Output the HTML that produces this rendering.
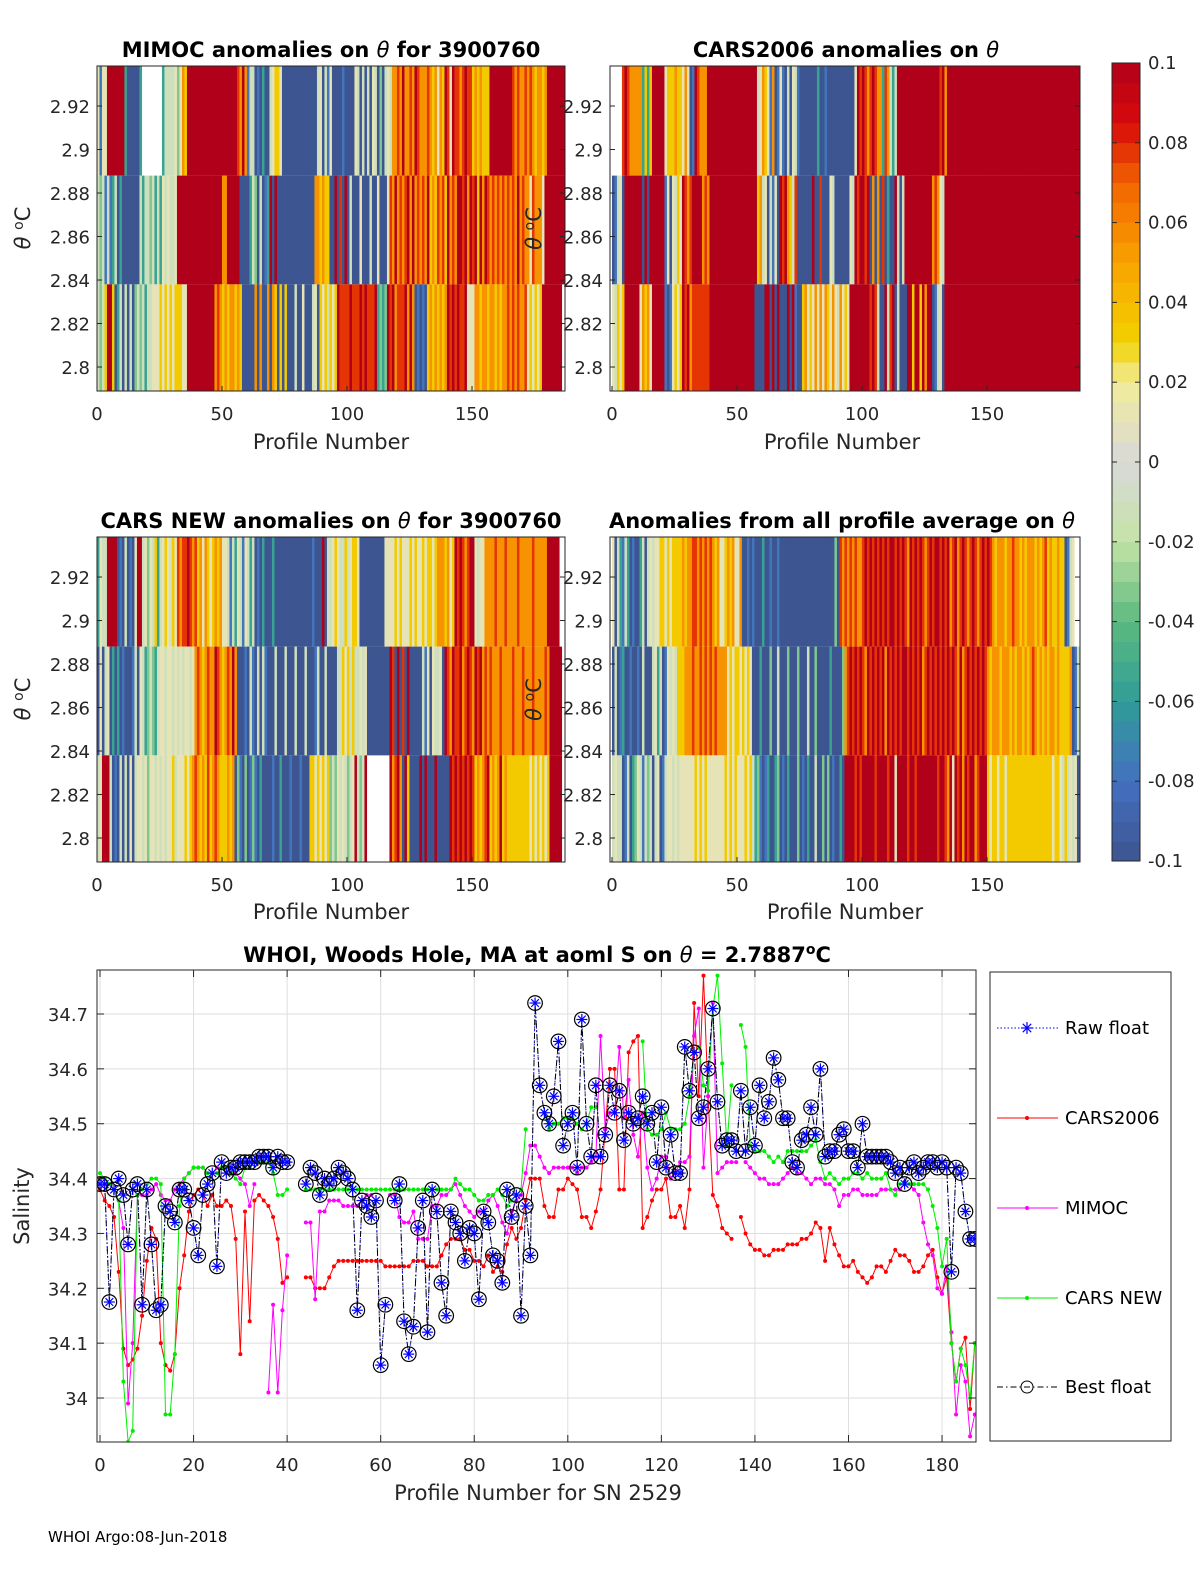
<!DOCTYPE html>
<html><head><meta charset="utf-8">
<style>
html,body{margin:0;padding:0;background:#fff;width:1200px;height:1575px;overflow:hidden;}
svg{display:block;font-family:"DejaVu Sans","Liberation Sans",sans-serif;}
.tk{font-size:18px;fill:#262626;}
.tt{font-size:21px;font-weight:bold;fill:#000;}
.lb{font-size:21px;fill:#262626;}
</style></head>
<body>
<svg id="fig" width="1200" height="1575" viewBox="0 0 1200 1575" xmlns="http://www.w3.org/2000/svg">
<defs>
<clipPath id="c1"><rect x="97" y="66" width="468" height="325"/></clipPath>
<clipPath id="c2"><rect x="610" y="66" width="470" height="325"/></clipPath>
<clipPath id="c3"><rect x="97" y="537" width="468" height="325"/></clipPath>
<clipPath id="c4"><rect x="610" y="537" width="470" height="325"/></clipPath>
<clipPath id="c5"><rect x="97" y="970" width="879" height="472"/></clipPath>
</defs>
<g id="heat"></g>
<g id="cbar"></g>
<g id="line"></g>

<text class="tt" x="331" y="57" text-anchor="middle">MIMOC anomalies on <tspan font-style="italic" font-weight="normal">θ</tspan>  for 3900760</text>
<text class="tt" x="846" y="57" text-anchor="middle">CARS2006 anomalies on <tspan font-style="italic" font-weight="normal">θ</tspan></text>
<text class="tt" x="331" y="528" text-anchor="middle">CARS NEW anomalies on <tspan font-style="italic" font-weight="normal">θ</tspan> for 3900760</text>
<text class="tt" x="842" y="528" text-anchor="middle">Anomalies from all profile average on <tspan font-style="italic" font-weight="normal">θ</tspan></text>
<text class="lb" x="331" y="449" text-anchor="middle">Profile Number</text>
<text class="lb" x="842" y="449" text-anchor="middle">Profile Number</text>
<text class="lb" x="331" y="919" text-anchor="middle">Profile Number</text>
<text class="lb" x="845" y="919" text-anchor="middle">Profile Number</text>
<text class="lb" transform="translate(30,228) rotate(-90)" text-anchor="middle"><tspan font-style="italic">θ</tspan> <tspan dy="-7" font-size="14">o</tspan><tspan dy="7">C</tspan></text>
<text class="lb" transform="translate(30,699) rotate(-90)" text-anchor="middle"><tspan font-style="italic">θ</tspan> <tspan dy="-7" font-size="14">o</tspan><tspan dy="7">C</tspan></text>
<text class="tt" x="537" y="962" text-anchor="middle">WHOI, Woods Hole, MA at aoml S on <tspan font-style="italic" font-weight="normal">θ</tspan> = 2.7887<tspan dy="-8" font-size="14">o</tspan><tspan dy="8">C</tspan></text>
<text class="lb" x="538" y="1500" text-anchor="middle">Profile Number for SN 2529</text>
<text class="lb" transform="translate(29,1206) rotate(-90)" text-anchor="middle">Salinity</text>
<text x="48" y="1542" font-size="15" fill="#000">WHOI Argo:08-Jun-2018</text>
</svg>
<script>
const NS='http://www.w3.org/2000/svg';
function mk(tag,attrs,parent){const e=document.createElementNS(NS,tag);for(const k in attrs)e.setAttribute(k,attrs[k]);parent.appendChild(e);return e;}

// ---------- heatmap data (level digits 0..9 => -0.1..0.1, n = no data) ----------
const bandEdges=[2.9384,2.888,2.838,2.789];
const thetaTicks=[2.8,2.82,2.84,2.86,2.88,2.9,2.92];
const profTicks=[0,50,100,150];
const mimocTop="515599999992000002nnnnnnnn2444453576999999999999999999998797144010200456650000000000000045041500001000054040405403045477879778798777876757698598878988676766699999999987877878767767999999999";
const mimocMid="43414124020000000424434242545445999999999999999999779999900002430401290900000000000000077676600908090400050004005000587978789797878796768786978799897989697987878787878797877587775999999999";
const mimocBot="434699602404040343424455565656566655999999999997876767767600000707007076060600040050004506564656988889888989888923239897888979701010676767679898988955577677677676778787877856565699999999";
const cars06Top="nnnn898777772626999995666766575019877799999999999999999999457651701510405410000000200100000000000598987898772874249999999999999999989799999999999999999999999999999999999999999999999999999";
const cars06Mid="01450999999909099999915054659878999978799999999999999999996745041509897648000000900800054000000549899890707080200940499999999999787549999999999999999999999999999999999999999999999999999999";
const cars06Bot="54656999999576759999910156569897888888899999999999999999900009909090009091006756575757657547565999999998984009489040009969969799014509999999999999999999999999999999999999999999999999999999";
const carsNewTop="25449999010401059945354624565465878898786757656767554142541542401020002000000000000000100090445654464566500000000005555656555656556566567776756989878995455777787778777787777787777799999";
const carsNewMid="050450202010001405423432455455454545545787678779876787970001041040410004000400040004000140040000446564644545000000000980908090000041505445098798897898798978787778777787778777877778799999";
const carsNewBot="459994010404050455453554545455645556567876768678766676703103013102000010020001000100066565656343545434594349nnnnnnnnn978970960000909000900000989898989867678967679676666666665656565699999";
const avgTop="50421420100240454556656566667677887878787675567675570010100020010010000000000000000000000308787878778989898989899898987989898789899898978978987898789898767776778776767776767867667660145";
const avgMid="04012001001040004524015454666777877878787877775656656565000200030040003000300040030000020000378989898798989897989898998989897898989898989879789898989876777677767677676787676767767666670140";
const avgBot="45440140235414340450145545455555565656555555565656555656423101200230102000301020040030301002099998989999989999899599998998999999998998795989798997899965665665666666666666666666566546454504";

const panels=[
 {name:'mimoc',x0:97,left:97,right:565,top:66,bot:391,clip:'c1',rows:[mimocTop,mimocMid,mimocBot]},
 {name:'cars2006',x0:612,left:610,right:1080,top:66,bot:391,clip:'c2',rows:[cars06Top,cars06Mid,cars06Bot]},
 {name:'cars-new',x0:97,left:97,right:565,top:537,bot:862,clip:'c3',rows:[carsNewTop,carsNewMid,carsNewBot]},
 {name:'average',x0:612,left:610,right:1080,top:537,bot:862,clip:'c4',rows:[avgTop,avgMid,avgBot]}
];
const stops=[[-0.1,[61,85,144]],[-0.08,[68,112,192]],[-0.06,[47,157,152]],[-0.04,[92,185,127]],[-0.02,[196,227,166]],[0,[217,217,217]],[0.02,[241,236,154]],[0.03,[242,210,0]],[0.05,[249,163,0]],[0.07,[242,100,0]],[0.085,[216,10,10]],[0.1,[176,0,26]]];
function cmap(v){v=Math.max(-0.1,Math.min(0.1,v));for(let i=1;i<stops.length;i++){if(v<=stops[i][0]){const a=stops[i-1],b=stops[i],t=(v-a[0])/(b[0]-a[0]);const c=a[1].map((x,k)=>Math.round(x+(b[1][k]-x)*t));return 'rgb('+c.join(',')+')';}}return 'rgb(176,0,26)';}

const heat=document.getElementById('heat');
panels.forEach((P,pi)=>{
  const g=mk('g',{},heat);
  
  
  const ys=v=>P.top+(bandEdges[0]-v)*2175;
  const xs=p=>P.x0+p*2.5;
  const cg=mk('g',{'clip-path':'url(#'+P.clip+')'},g);
  P.rows.forEach((row,ri)=>{
    const y1=ys(bandEdges[ri]),y2=ys(bandEdges[ri+1]);
    for(let p=0;p<row.length;p++){
      const ch=row[p]; if(ch==='n') continue;
      const v=-0.1+parseInt(ch)*0.2/9;
      const r=mk('rect',{x:xs(p)-0.05,y:y1,width:2.6,height:y2-y1,fill:cmap(v)},cg);
      
      
    }
  });
  mk('rect',{x:P.left,y:P.top,width:P.right-P.left,height:P.bot-P.top,fill:'none',stroke:'#262626','stroke-width':1},g);
  thetaTicks.forEach(t=>{
    const y=ys(t);
    mk('line',{x1:P.left,x2:P.left+5,y1:y,y2:y,stroke:'#262626'},g);
    mk('line',{x1:P.right,x2:P.right-5,y1:y,y2:y,stroke:'#262626'},g);
    const tx=mk('text',{x:P.left-7,y:y+7,'text-anchor':'end',class:'tk'},g);
    tx.textContent=String(t);
    
    
  });
  profTicks.forEach(t=>{
    const x=xs(t);
    mk('line',{x1:x,x2:x,y1:P.bot,y2:P.bot-5,stroke:'#262626'},g);
    const tx=mk('text',{x:x,y:P.bot+29,'text-anchor':'middle',class:'tk'},g);
    tx.textContent=String(t);
    
    
  });
  if(pi===1||pi===3){
    const yl=mk('text',{transform:'translate(541,'+((P.top+P.bot)/2)+') rotate(-90)','text-anchor':'middle',class:'lb'},g);
    yl.innerHTML='<tspan font-style="italic">θ</tspan> <tspan dy="-7" font-size="14">o</tspan><tspan dy="7">C</tspan>';
    
    
  }
});

// ---------- colorbar ----------
const cbTicks=[0.1,0.08,0.06,0.04,0.02,0,-0.02,-0.04,-0.06,-0.08,-0.1];
const cbLabels=['0.1','0.08','0.06','0.04','0.02','0','-0.02','-0.04','-0.06','-0.08','-0.1'];
const cb=document.getElementById('cbar');
const cby=v=>462-v*3990;
for(let i=0;i<40;i++){
  const v0=-0.1+i*0.005,v1=v0+0.005;
  const r=mk('rect',{x:1112,y:cby(v1),width:28,height:cby(v0)-cby(v1)+0.3,fill:cmap(v0+0.0025)},cb);
  
  
}
mk('rect',{x:1112,y:63,width:28,height:798,fill:'none',stroke:'#262626'},cb);
cbTicks.forEach((t,i)=>{
  const y=cby(t);
  mk('line',{x1:1140,x2:1135,y1:y,y2:y,stroke:'#262626'},cb);
  mk('line',{x1:1112,x2:1117,y1:y,y2:y,stroke:'#262626'},cb);
  const tx=mk('text',{x:1148,y:y+6,class:'tk'},cb);
  tx.textContent=cbLabels[i];
  
  
});

// ---------- salinity line chart data ----------
const N=null;
const bestFloat=[34.39,34.39,34.175,34.38,34.40,34.37,34.28,34.38,34.39,34.17,34.38,34.28,34.16,34.17,34.35,34.34,34.32,34.38,34.38,34.36,34.31,34.26,34.37,34.39,34.41,34.24,34.43,34.41,34.42,34.42,34.43,34.43,34.43,34.43,34.44,34.44,34.44,34.42,34.44,34.43,34.43,N,N,N,34.39,34.42,34.41,34.37,34.40,34.39,34.40,34.42,34.41,34.40,34.38,34.16,34.36,34.35,34.33,34.36,34.06,34.17,N,34.36,34.39,34.14,34.08,34.13,34.31,34.36,34.12,34.38,34.34,34.21,34.15,34.34,34.32,34.30,34.25,34.31,34.30,34.18,34.34,34.32,34.26,34.25,34.21,34.38,34.33,34.37,34.15,34.35,34.26,34.72,34.57,34.52,34.50,34.55,34.65,34.46,34.50,34.52,34.42,34.69,34.50,34.44,34.57,34.44,34.48,34.57,34.52,34.56,34.47,34.52,34.50,34.51,34.55,34.50,34.52,34.43,34.53,34.42,34.48,34.41,34.41,34.64,34.56,34.63,34.51,34.53,34.60,34.71,34.54,34.46,34.47,34.47,34.45,34.56,34.45,34.53,34.46,34.57,34.51,34.54,34.62,34.58,34.51,34.51,34.43,34.42,34.47,34.48,34.53,34.48,34.60,34.44,34.45,34.45,34.48,34.49,34.45,34.45,34.42,34.50,34.44,34.44,34.44,34.44,34.44,34.43,34.41,34.42,34.39,34.42,34.43,34.41,34.42,34.43,34.43,34.42,34.43,34.42,34.23,34.42,34.41,34.34,34.29,34.29];
const cars2006=[34.38,34.36,34.35,34.33,34.23,34.09,34.06,34.07,34.09,34.15,34.25,34.31,34.29,34.10,34.06,34.05,34.08,34.20,34.26,34.34,34.37,34.38,34.37,34.35,34.37,34.35,34.35,34.36,34.35,34.29,34.08,34.34,34.14,34.36,34.37,34.36,34.35,34.33,34.29,34.21,34.22,N,N,N,34.22,34.22,34.20,34.20,34.20,34.22,34.24,34.25,34.25,34.25,34.25,34.25,34.25,34.25,34.25,34.25,34.25,34.24,34.24,34.24,34.24,34.24,34.24,34.25,34.25,34.25,34.24,34.24,34.24,34.26,34.28,34.29,34.29,34.29,34.27,34.27,34.25,34.25,34.24,34.26,34.23,34.24,34.23,34.28,34.31,34.29,34.31,34.36,34.40,34.40,34.40,34.35,34.33,34.33,34.38,34.38,34.40,34.39,34.38,34.33,34.33,34.31,34.34,34.38,34.49,34.60,34.60,34.38,34.38,34.63,34.65,34.66,34.31,34.33,34.36,34.38,34.38,34.40,34.33,34.33,34.35,34.31,34.38,34.72,34.55,34.77,34.55,34.37,34.35,34.31,34.30,34.29,N,34.33,34.30,34.28,34.27,34.27,34.26,34.26,34.27,34.27,34.27,34.28,34.28,34.28,34.29,34.29,34.30,34.32,34.31,34.25,34.31,34.28,34.26,34.24,34.24,34.25,34.23,34.22,34.21,34.22,34.24,34.24,34.23,34.25,34.27,34.26,34.26,34.25,34.23,34.23,34.24,34.26,34.27,34.22,34.19,34.22,34.10,34.03,34.09,34.11,33.98,34.10];
const mimoc=[34.40,34.40,34.39,34.38,34.36,34.31,33.99,34.10,34.37,34.37,34.37,34.38,34.39,34.37,34.36,34.36,34.38,34.39,34.40,34.41,34.42,34.42,34.42,34.41,34.41,34.42,34.42,34.42,34.42,34.41,34.40,34.39,34.35,34.39,N,N,34.01,34.17,34.01,34.16,34.26,N,N,N,34.32,34.32,34.18,34.34,34.34,34.36,34.36,34.36,34.35,34.35,34.35,34.35,34.36,34.37,34.37,N,N,N,34.37,34.37,34.33,34.32,34.32,34.34,34.29,34.29,34.29,34.35,34.35,34.37,34.37,34.38,34.39,34.37,34.35,34.34,34.33,34.34,34.34,34.36,34.37,34.35,34.32,34.30,34.34,34.36,34.37,34.41,34.46,34.46,34.44,34.42,34.41,34.42,34.42,34.42,34.42,34.42,34.41,34.42,34.42,34.43,34.44,34.66,34.49,34.52,34.52,34.64,34.51,34.58,34.48,34.44,34.52,34.42,34.38,34.40,34.44,34.44,34.40,34.41,34.43,34.43,34.44,34.66,34.71,34.42,34.55,34.72,34.41,34.42,34.43,34.43,34.43,N,34.43,34.42,34.41,34.40,34.40,34.39,34.39,34.39,34.40,34.41,34.42,34.41,34.41,34.40,34.39,34.40,34.40,34.39,34.39,34.38,34.35,34.37,34.37,34.38,34.38,34.37,34.37,34.37,34.37,34.38,34.38,34.38,34.38,34.38,34.39,34.39,34.38,34.37,34.32,34.28,34.26,34.20,34.19,34.24,34.12,33.97,34.06,34.03,33.93,33.97];
const carsNew=[34.41,34.40,34.39,34.38,34.36,34.03,33.92,33.94,34.37,34.38,34.39,34.40,34.40,34.39,33.97,33.97,34.08,34.35,34.40,34.41,34.42,34.42,34.42,34.41,34.41,34.41,34.42,34.42,34.41,34.40,34.39,34.42,34.42,34.43,34.43,34.43,34.43,34.41,34.37,34.37,34.38,N,N,N,34.38,34.38,34.38,34.38,34.38,34.38,34.38,34.38,34.38,34.38,34.38,34.38,34.38,34.38,34.38,34.38,34.38,34.38,34.38,34.38,34.38,34.38,34.38,34.38,34.38,34.38,34.38,34.38,34.38,34.38,34.38,34.38,34.40,34.39,34.38,34.38,34.37,34.36,34.36,34.37,34.37,34.38,34.37,34.35,34.36,34.37,34.38,34.49,N,N,N,34.52,34.49,34.50,34.50,34.51,34.51,34.51,34.50,34.49,34.50,34.53,34.53,N,N,N,N,N,N,N,N,N,34.65,34.49,34.48,34.48,34.49,34.52,34.49,34.49,34.49,34.50,34.55,34.63,34.64,34.57,34.56,34.71,34.77,34.61,34.46,34.57,N,34.68,34.64,34.46,34.45,34.45,34.45,34.44,34.43,34.44,34.43,34.45,34.45,34.45,34.45,34.45,34.46,34.47,34.43,34.40,34.41,34.40,34.39,34.40,34.40,34.41,34.41,34.40,34.41,34.40,34.40,34.40,34.41,34.38,34.37,34.39,34.39,34.39,34.39,34.39,34.39,34.38,34.35,34.31,34.24,34.29,34.10,34.03,34.09,34.06,34.00,34.10];
const salTicks=[34,34.1,34.2,34.3,34.4,34.5,34.6,34.7];
const salTickLabels=['34','34.1','34.2','34.3','34.4','34.5','34.6','34.7'];
const profTicks2=[0,20,40,60,80,100,120,140,160,180];

const L=document.getElementById('line');
const X=p=>100+p*4.678;
const Y=v=>1014+(34.7-v)*548.6;
salTicks.forEach(t=>{mk('line',{x1:97,x2:976,y1:Y(t),y2:Y(t),stroke:'#dedede'},L);});
profTicks2.forEach(t=>{mk('line',{x1:X(t),x2:X(t),y1:970,y2:1442,stroke:'#dedede'},L);});
const plot=mk('g',{'clip-path':'url(#c5)'},L);
function pathOf(arr){let d='',pen=false;arr.forEach((v,i)=>{if(v===null){pen=false;return;}d+=(pen?'L':'M')+X(i).toFixed(1)+' '+Y(v).toFixed(1);pen=true;});return d;}
function series(arr,color,name){
  const g=mk('g',{},plot);
  
  
  const p=mk('path',{d:pathOf(arr),fill:'none',stroke:color,'stroke-width':1},g);
  
  
  arr.forEach((v,i)=>{if(v===null)return;
    const c=mk('circle',{cx:X(i),cy:Y(v),r:2,fill:color},g);
    
    
  });
}
series(cars2006,'#ff0000','cars2006');
series(mimoc,'#ff00ff','mimoc');
series(carsNew,'#00ee00','cars-new');
const bg=mk('g',{},plot);


mk('path',{d:pathOf(bestFloat),fill:'none',stroke:'#0000ff','stroke-width':1,'stroke-dasharray':'1.5,2'},bg);
const bl=mk('path',{d:pathOf(bestFloat),fill:'none',stroke:'#000','stroke-width':1,'stroke-dasharray':'6,3,1.5,3'},bg);


function asterisk(cx,cy,s,g){
  [[s,0],[0,s],[s*0.7,s*0.7],[s*0.7,-s*0.7]].forEach(d=>{mk('line',{x1:cx-d[0],y1:cy-d[1],x2:cx+d[0],y2:cy+d[1],stroke:'#0000ff','stroke-width':1.2},g);});
}
bestFloat.forEach((v,i)=>{if(v===null)return;
  const c=mk('circle',{cx:X(i),cy:Y(v),r:7.3,fill:'none',stroke:'#000','stroke-width':1.2},bg);
  
  
  asterisk(X(i),Y(v),5.5,bg);
});
mk('rect',{x:97,y:970,width:879,height:472,fill:'none',stroke:'#262626'},L);
salTicks.forEach((t,i)=>{
  mk('line',{x1:97,x2:104,y1:Y(t),y2:Y(t),stroke:'#262626'},L);
  mk('line',{x1:976,x2:969,y1:Y(t),y2:Y(t),stroke:'#262626'},L);
  const tx=mk('text',{x:88,y:Y(t)+7,'text-anchor':'end',class:'tk'},L);
  tx.textContent=salTickLabels[i];
  
  
});
profTicks2.forEach(t=>{
  mk('line',{x1:X(t),x2:X(t),y1:1442,y2:1435,stroke:'#262626'},L);
  mk('line',{x1:X(t),x2:X(t),y1:970,y2:977,stroke:'#262626'},L);
  const tx=mk('text',{x:X(t),y:1471,'text-anchor':'middle',class:'tk'},L);
  tx.textContent=String(t);
  
  
});
const lg=mk('g',{},L);


mk('rect',{x:990,y:972,width:181,height:469,fill:'#fff',stroke:'#262626'},lg);
const legNames=['Raw float','CARS2006','MIMOC','CARS NEW','Best float'];
const legY=[1028,1118,1208,1298,1387];
legNames.forEach((n,i)=>{
  const e=mk('g',{},lg);
  
  
  const y=legY[i];
  if(i===0){mk('line',{x1:997,x2:1058,y1:y,y2:y,stroke:'#0000ff','stroke-dasharray':'1.5,2'},e);asterisk(1027,y,6,e);}
  else if(i===4){mk('line',{x1:997,x2:1058,y1:y,y2:y,stroke:'#000','stroke-dasharray':'6,3,1.5,3'},e);mk('circle',{cx:1027,cy:y,r:6,fill:'none',stroke:'#000'},e);}
  else{const col=['','#ff0000','#ff00ff','#00ee00'][i];mk('line',{x1:997,x2:1058,y1:y,y2:y,stroke:col},e);mk('circle',{cx:1027,cy:y,r:2,fill:col},e);}
  const tx=mk('text',{x:1065,y:y+6,'font-size':'18',fill:'#000'},e);
  tx.textContent=n;
});
</script>
</body></html>
